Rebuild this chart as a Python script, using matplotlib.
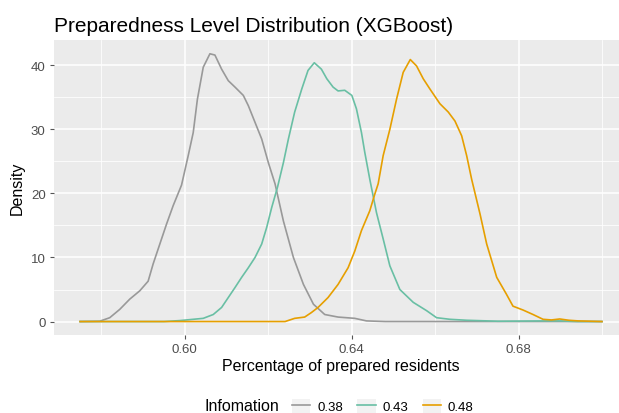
import numpy as np
import matplotlib
matplotlib.use("Agg")
import matplotlib.pyplot as plt
from matplotlib.lines import Line2D
from matplotlib.patches import Patch

plt.rcParams["font.family"] = ["Liberation Sans", "DejaVu Sans"]

# density curves (x = share prepared, y = density)
x_038 = [0.5749, 0.5796, 0.5820, 0.5844, 0.5868, 0.5892, 0.5912, 0.5924, 0.5940,
         0.5956, 0.5972, 0.5992, 0.6008, 0.6020, 0.6030, 0.6044, 0.6060, 0.6072,
         0.6088, 0.6104, 0.6120, 0.6140, 0.6152, 0.6168, 0.6184, 0.6200, 0.6216,
         0.6236, 0.6260, 0.6284, 0.6308, 0.6335, 0.6367, 0.6407, 0.6435, 0.6480,
         0.6999]
y_038 = [0.0, 0.05, 0.6, 1.9, 3.5, 4.8, 6.3, 9.0, 12.1,
         15.2, 18.1, 21.3, 25.9, 29.5, 34.7, 39.7, 41.8, 41.6,
         39.4, 37.6, 36.6, 35.3, 33.7, 31.1, 28.5, 24.8, 21.5,
         15.7, 10.0, 5.8, 2.7, 1.1, 0.7, 0.5, 0.1, 0.0,
         0.0]

x_043 = [0.5749, 0.5950, 0.5988, 0.6044, 0.6068, 0.6088, 0.6104, 0.6120, 0.6136,
         0.6152, 0.6168, 0.6184, 0.6196, 0.6208, 0.6222, 0.6236, 0.6248, 0.6263,
         0.6280, 0.6295, 0.6310, 0.6327, 0.6340, 0.6355, 0.6367, 0.6383, 0.6400,
         0.6411, 0.6423, 0.6431, 0.6443, 0.6459, 0.6475, 0.6491, 0.6515, 0.6547,
         0.6579, 0.6603, 0.6635, 0.6675, 0.6750, 0.6860, 0.6900, 0.6940, 0.6999]
y_043 = [0.0, 0.0, 0.15, 0.5, 1.1, 2.2, 3.75, 5.3, 6.9,
         8.4, 10.0, 12.1, 14.7, 17.8, 21.0, 24.8, 28.5, 32.7,
         36.3, 39.2, 40.4, 39.4, 37.9, 36.6, 36.0, 36.1, 35.3,
         33.2, 29.5, 26.4, 22.2, 17.0, 12.9, 8.7, 5.0, 3.0,
         1.7, 0.6, 0.35, 0.2, 0.05, 0.1, 0.1, 0.0, 0.0]

x_048 = [0.5749, 0.6240, 0.6263, 0.6287, 0.6303, 0.6319, 0.6343, 0.6367, 0.6391,
         0.6407, 0.6423, 0.6443, 0.6455, 0.6463, 0.6475, 0.6491, 0.6507, 0.6523,
         0.6540, 0.6555, 0.6571, 0.6587, 0.6611, 0.6631, 0.6647, 0.6663, 0.6675,
         0.6687, 0.6707, 0.6723, 0.6747, 0.6770, 0.6786, 0.6810, 0.6834, 0.6858,
         0.6878, 0.6898, 0.6920, 0.6942, 0.6999]
y_048 = [0.0, 0.0, 0.5, 0.7, 1.4, 2.2, 3.75, 5.8, 8.4,
         11.0, 14.2, 17.3, 19.9, 21.5, 25.9, 30.0, 34.7, 38.9,
         40.9, 39.9, 37.9, 36.3, 34.0, 32.7, 31.3, 29.0, 25.9,
         22.2, 16.8, 12.1, 6.9, 4.3, 2.4, 1.8, 1.1, 0.35,
         0.25, 0.4, 0.2, 0.1, 0.0]

labels = ["0.38", "0.43", "0.48"]
colors = ["#999999", "#69BFA4", "#E69F00"]

fig = plt.figure(figsize=(6.19, 4.14), dpi=100)
ax = fig.add_axes([54 / 619, 1 - 336 / 414, (628 - 54) / 619, (336 - 41) / 414])
ax.set_facecolor("#EBEBEB")

for xs, ys, c in zip([x_038, x_043, x_048], [y_038, y_043, y_048], colors):
    ax.plot(xs, ys, color=c, lw=1.2, solid_joinstyle="round")

ax.set_xlim(0.56865, 0.70615)
ax.set_ylim(-2.1, 43.95)
ax.set_xticks([0.60, 0.64, 0.68])
ax.set_xticklabels(["0.60", "0.64", "0.68"])
ax.set_xticks([0.58, 0.62, 0.66, 0.70], minor=True)
ax.set_yticks([0, 10, 20, 30, 40])
ax.set_yticks([5, 15, 25, 35], minor=True)
ax.grid(which="major", color="white", lw=1.1)
ax.grid(which="minor", color="white", lw=0.55)
ax.set_axisbelow(True)
for s in ax.spines.values():
    s.set_visible(False)
ax.tick_params(which="major", length=3, width=0.8, color="#555555",
               labelsize=9.5, labelcolor="#4D4D4D", pad=3)
ax.tick_params(which="minor", length=0)

ax.set_xlabel("Percentage of prepared residents", fontsize=11.5, labelpad=2)
ax.set_ylabel("Density", fontsize=11.5, labelpad=4)
fig.text(54 / 619, 1 - 26 / 414, "Preparedness Level Distribution (XGBoost)",
         fontsize=15, va="center", ha="left")

# legend along the bottom
fig.text(205 / 619, 1 - 407 / 414, "Infomation", fontsize=11.5,
         va="center", ha="left")
handles = [(Patch(facecolor="#F2F2F2", edgecolor="none"),
            Line2D([], [], color=c, lw=1.2)) for c in colors]
fig.legend(handles, labels, ncol=3, frameon=False, fontsize=9.5,
           loc="center left", bbox_to_anchor=(292 / 619, 1 - 407 / 414),
           handlelength=1.4, handleheight=1.3, handletextpad=0.5,
           columnspacing=1.1, borderaxespad=0, borderpad=0)

fig.savefig("out.png", dpi=100)
